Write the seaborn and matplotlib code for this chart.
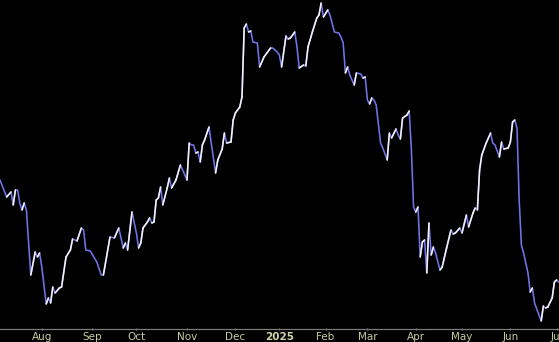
import numpy as np
import pandas as pd
import seaborn as sns
import matplotlib
matplotlib.use("Agg")
import matplotlib.pyplot as plt
from matplotlib.collections import LineCollection

# --- data: trading-session index and value ---
sessions = [0, 3, 5, 6, 7, 8, 9, 10, 11, 12, 14, 16, 17, 18, 19, 21, 22, 23, 24, 25,
            27, 28, 30, 32, 33, 35, 37, 38, 39, 41, 44, 46, 47, 50, 52, 54, 56, 57, 58, 60,
            62, 63, 64, 65, 67, 68, 69, 70, 71, 72, 73, 74, 76, 77, 78, 80, 82, 83, 85, 86,
            87, 88, 89, 90, 91, 92, 93, 95, 96, 98, 99, 101, 102, 103, 105, 106, 107, 109, 110, 111,
            112, 113, 114, 115, 117, 118, 120, 123, 124, 126, 127, 128, 130, 131, 132, 134, 135, 136, 138, 139,
            140, 142, 144, 145, 146, 147, 149, 150, 152, 154, 155, 156, 157, 158, 159, 161, 162, 164, 165, 166,
            167, 168, 169, 170, 171, 173, 174, 176, 177, 178, 180, 181, 182, 183, 185, 186, 187, 188, 189, 190,
            191, 192, 193, 194, 195, 196, 197, 198, 200, 201, 203, 205, 206, 207, 209, 210, 212, 213, 215, 216,
            217, 218, 219, 221, 223, 224, 225, 227, 228, 229, 231, 232, 233, 234, 235, 236, 237, 238, 240, 241,
            242, 243, 245, 246, 247, 248, 249, 251, 252, 253, 254]
ypix = [180, 197, 192, 205, 190, 190, 203, 210, 203, 210, 275, 252, 257, 253, 267, 304, 298, 303, 287, 293,
        288, 287, 257, 250, 239, 241, 228, 230, 250, 251, 262, 275, 275, 237, 238, 228, 248, 243, 250, 212,
        233, 248, 243, 228, 222, 218, 223, 222, 200, 198, 187, 205, 188, 178, 188, 180, 165, 170, 180, 143,
        145, 145, 153, 152, 162, 145, 140, 127, 143, 173, 160, 149, 133, 143, 142, 120, 113, 107, 97, 28,
        24, 32, 31, 42, 43, 67, 57, 48, 48, 52, 55, 67, 36, 39, 38, 32, 47, 68, 65, 66,
        47, 32, 18, 15, 3, 17, 10, 15, 32, 33, 37, 43, 73, 67, 75, 85, 73, 74, 78, 77,
        100, 104, 98, 100, 105, 143, 148, 160, 133, 138, 129, 135, 139, 118, 115, 111, 150, 207, 212, 207,
        257, 242, 240, 273, 223, 255, 247, 253, 270, 267, 248, 230, 234, 233, 228, 233, 215, 227, 213, 208,
        210, 170, 155, 143, 133, 143, 145, 157, 142, 149, 148, 142, 122, 120, 128, 200, 245, 253, 273, 292,
        288, 303, 315, 321, 306, 308, 307, 298, 282, 280, 282]
values = [329 - v for v in ypix]

tick_sessions = [19, 42, 62, 85, 107, 127, 148, 167, 189, 210, 232, 253]
tick_labels = ["Aug", "Sep", "Oct", "Nov", "Dec", "2025", "Feb", "Mar", "Apr", "May", "Jun", "Jul"]

df = pd.DataFrame({"session": sessions, "value": values})

sns.set_theme(style="dark", rc={"axes.facecolor": "black", "figure.facecolor": "black"})
plt.rcParams["font.family"] = ["DejaVu Sans"]

W, H = 559, 342
fig = plt.figure(figsize=(W / 100, H / 100), dpi=100)
ax = fig.add_axes([0, 13 / H, 1, 329 / H])
ax.set_facecolor("black")

fall_color = "#7272ea"
rise_color = "#f2f2f2"
lw = 1.15

sns.lineplot(data=df, x="session", y="value", ax=ax, color=fall_color, linewidth=lw)

x = df["session"].to_numpy(dtype=float)
y = df["value"].to_numpy(dtype=float)
pts = np.column_stack([x, y])
segs = np.stack([pts[:-1], pts[1:]], axis=1)
rising = y[1:] > y[:-1]
lc = LineCollection(segs[rising], colors=rise_color, linewidths=lw, capstyle="round")
ax.add_collection(lc)

ax.set_xlim(0, 254.1)
ax.set_ylim(0, 329)
ax.set_xlabel("")
ax.set_ylabel("")
ax.set_yticks([])
ax.set_xticks(tick_sessions)
ax.set_xticklabels(tick_labels)
ax.tick_params(axis="x", colors="#8a8a8a", labelcolor="#c9c9a2", labelsize=7.5,
               length=2, width=0.8, direction="inout", pad=1.2, bottom=True)
for lbl in ax.get_xticklabels():
    if lbl.get_text() == "2025":
        lbl.set_fontweight("bold")
        lbl.set_color("#d4d4a8")

for side in ["top", "left", "right"]:
    ax.spines[side].set_visible(False)
ax.spines["bottom"].set_visible(True)
ax.spines["bottom"].set_color("#7a7a7a")
ax.spines["bottom"].set_linewidth(0.9)
ax.grid(False)

fig.savefig("out.png", dpi=100, facecolor="black")
